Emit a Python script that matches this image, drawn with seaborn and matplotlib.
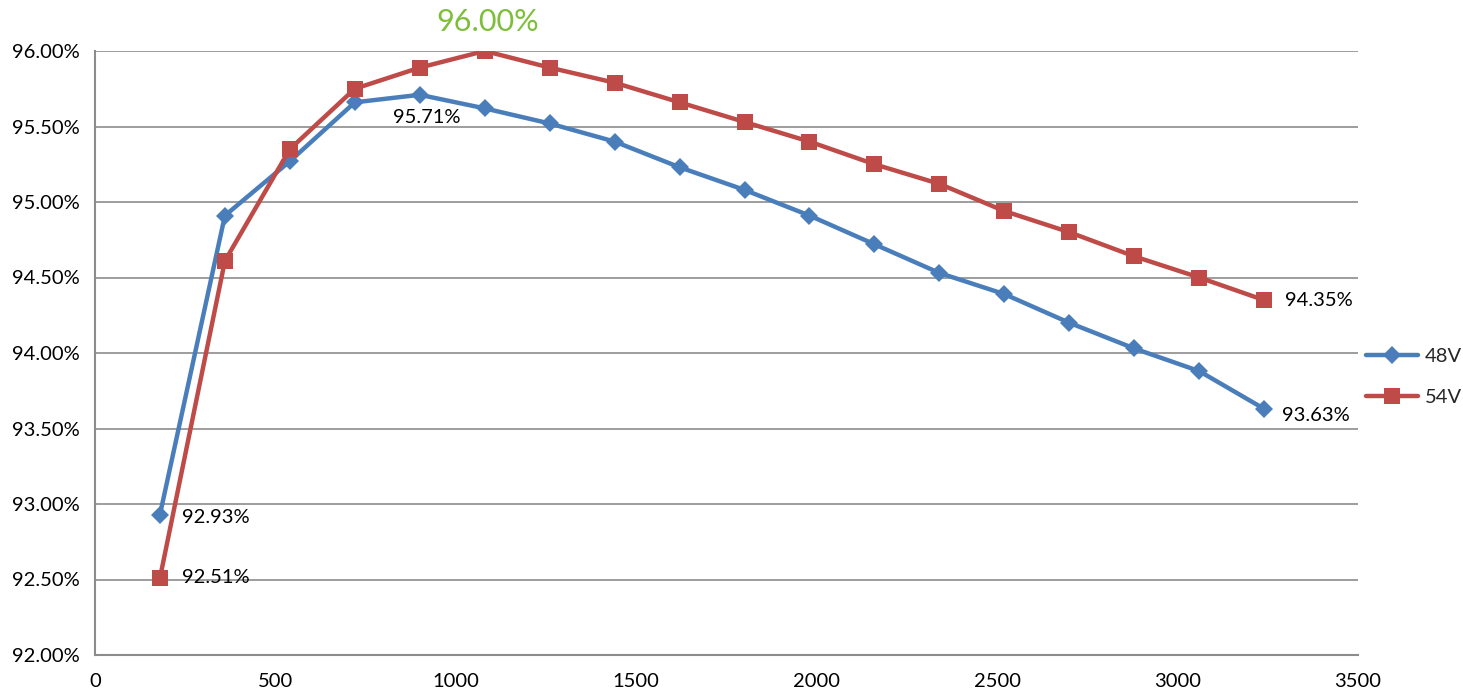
import pandas as pd
import seaborn as sns
import matplotlib.pyplot as plt
from matplotlib.ticker import FuncFormatter

# -------------------------------
# DATA
# -------------------------------
power = [180, 360, 540, 720, 900, 1080, 1260, 1440, 1620, 1800,
         1980, 2160, 2340, 2520, 2700, 2880, 3060, 3240]
eff_48v = [92.93, 94.91, 95.27, 95.66, 95.71, 95.62, 95.52, 95.40, 95.23, 95.08,
           94.91, 94.72, 94.53, 94.39, 94.20, 94.03, 93.88, 93.63]
eff_54v = [92.51, 94.61, 95.35, 95.75, 95.89, 96.00, 95.89, 95.79, 95.66, 95.53,
           95.40, 95.25, 95.12, 94.94, 94.80, 94.64, 94.50, 94.35]
series_names = ["48V", "54V"]

df = pd.concat([
    pd.DataFrame({"power": power, "eff": eff_48v, "series": "48V"}),
    pd.DataFrame({"power": power, "eff": eff_54v, "series": "54V"}),
])

# -------------------------------
# STYLE
# -------------------------------
sns.set_style("white")
plt.rcParams["font.family"] = ["Lato", "DejaVu Sans"]

blue = "#4A7EBB"
red = "#BE4B48"
grid_c = "#8C8C8C"
fs = 14.5

fig = plt.figure(figsize=(14.63, 6.93), dpi=100)
ax = fig.add_axes([95 / 1463, 1 - 655 / 693, (1358 - 95) / 1463, (655 - 51) / 693])

sns.lineplot(data=df, x="power", y="eff", hue="series", style="series",
             palette={"48V": blue, "54V": red},
             markers={"48V": "D", "54V": "s"}, dashes=False,
             linewidth=3.2, markersize=10, markeredgewidth=0,
             ax=ax, legend=False)
# diamond a bit smaller than square
ax.lines[0].set_markersize(9)
ax.lines[1].set_markersize(11.5)

ax.set_xlim(0, 3500)
ax.set_ylim(92.0, 96.0)
ax.set_xticks(range(0, 3501, 500))
ax.set_yticks([92.0 + 0.5 * i for i in range(9)])
ax.yaxis.set_major_formatter(FuncFormatter(lambda v, _: f"{v:.2f}%"))
ax.set_xlabel("")
ax.set_ylabel("")

ax.grid(axis="y", color=grid_c, linewidth=1.2)
ax.grid(axis="x", visible=False)
ax.set_axisbelow(True)
for side in ["top", "right"]:
    ax.spines[side].set_visible(False)
for side in ["left", "bottom"]:
    ax.spines[side].set_color(grid_c)
    ax.spines[side].set_linewidth(1.5)
ax.tick_params(axis="both", direction="out", length=6, width=1.2, color=grid_c,
               labelsize=fs, labelcolor="black")
ax.tick_params(axis="y", pad=5)
ax.tick_params(axis="x", pad=7)

# -------------------------------
# ANNOTATIONS
# -------------------------------
lbl = dict(fontsize=fs, color="black")
ax.annotate(f"{eff_48v[0]:.2f}%", (power[0], eff_48v[0]), xytext=(16, -2),
            textcoords="offset points", ha="left", va="center", **lbl)
ax.annotate(f"{eff_54v[0]:.2f}%", (power[0], eff_54v[0]), xytext=(16, 0),
            textcoords="offset points", ha="left", va="center", **lbl)
ax.annotate(f"{eff_48v[4]:.2f}%", (power[4], eff_48v[4]), xytext=(5, -16),
            textcoords="offset points", ha="center", va="center", **lbl)
ax.annotate(f"{eff_54v[-1]:.2f}%", (power[-1], eff_54v[-1]), xytext=(15, 0),
            textcoords="offset points", ha="left", va="center", **lbl)
ax.annotate(f"{eff_48v[-1]:.2f}%", (power[-1], eff_48v[-1]), xytext=(13, -5),
            textcoords="offset points", ha="left", va="center", **lbl)
ax.annotate(f"{eff_54v[5]:.2f}%", (power[5], eff_54v[5]), xytext=(2, 21),
            textcoords="offset points", ha="center", va="center",
            fontsize=22, color="#7DBF3A", annotation_clip=False)

# -------------------------------
# LEGEND
# -------------------------------
handles = [
    plt.Line2D([], [], color=blue, marker="D", markersize=9, linewidth=3.2, markeredgewidth=0),
    plt.Line2D([], [], color=red, marker="s", markersize=11.5, linewidth=3.2, markeredgewidth=0),
]
fig.legend(handles, series_names, loc="center left",
           bbox_to_anchor=(1348 / 1463, 1 - 377 / 693), frameon=False,
           fontsize=fs, handlelength=2.6, handletextpad=0.3, labelspacing=1.2)

fig.savefig("out.png", dpi=100)
